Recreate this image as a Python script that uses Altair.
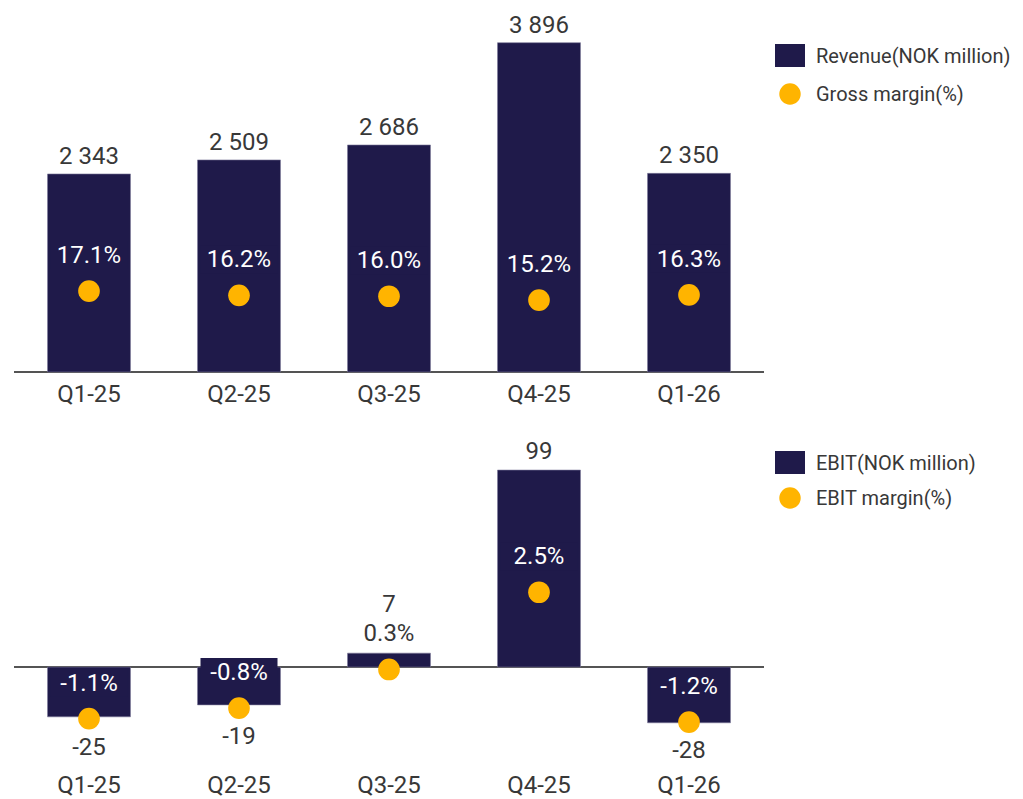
import altair as alt
import pandas as pd

quarters = ["Q1-25", "Q2-25", "Q3-25", "Q4-25", "Q1-26"]
revenue = [2343, 2509, 2686, 3896, 2350]
gross_margin = [17.1, 16.2, 16.0, 15.2, 16.3]
ebit = [-25, -19, 7, 99, -28]
ebit_margin = [-1.1, -0.8, 0.3, 2.5, -1.2]
legend_top = ["Revenue(NOK million)", "Gross margin(%)"]
legend_bottom = ["EBIT(NOK million)", "EBIT margin(%)"]

FONT = "Roboto"
TXT = "#383838"
NAVY = "#1f1a4a"
AMBER = "#ffb400"
FS = 24

def fmt_num(v):
    return f"{v:,}".replace(",", " ")

def fmt_pct(v):
    return f"{v:.1f}%"

top_df = pd.DataFrame({
    "q": quarters, "v": revenue, "m": gross_margin,
    "vl": [fmt_num(v) for v in revenue],
    "ml": [fmt_pct(v) for v in gross_margin],
})
bot_df = pd.DataFrame({
    "q": quarters, "v": ebit, "m": ebit_margin,
    "vl": [fmt_num(v) for v in ebit],
    "ml": [fmt_pct(v) for v in ebit_margin],
})

W = 750
H_TOP = 355
H_BOT = 322

def xenc():
    return alt.X(
        "q:N", sort=quarters,
        scale=alt.Scale(paddingInner=0.447, paddingOuter=0.2235),
        axis=alt.Axis(title=None, domain=False, ticks=False, labelFont=FONT,
                      labelFontSize=FS, labelColor=TXT, labelPadding=10,
                      labelAngle=0),
    )

BOX = "M-1,-0.3636H1V0.3636H-1Z"

def panel(df, vdom, mdom, height, legend_labels, leg_y):
    vscale = alt.Scale(domain=vdom, nice=False, zero=False)
    mscale = alt.Scale(domain=mdom, nice=False, zero=False)
    base = alt.Chart(df)
    inside = "!(datum.v > 0 && datum.v < 20)"
    rule = base.mark_rule(color="#555555", strokeWidth=1.6).encode(
        y=alt.YDatum(0, scale=vscale, axis=None))
    bars = base.mark_bar(color=NAVY, stroke="#7c7899", strokeWidth=0.6).encode(
        x=xenc(), y=alt.Y("v:Q", scale=vscale, axis=None))
    boxes = base.transform_filter(inside).mark_point(
        shape=BOX, size=5929, filled=True, color=NAVY, opacity=1, yOffset=-36).encode(
        x=xenc(), y=alt.Y("m:Q", scale=mscale, axis=None))
    dots = base.mark_circle(size=470, color=AMBER, opacity=1).encode(
        x=xenc(), y=alt.Y("m:Q", scale=mscale, axis=None))
    mtext = base.mark_text(font=FONT, fontSize=FS, baseline="alphabetic", dy=-28).encode(
        x=xenc(), y=alt.Y("m:Q", scale=mscale, axis=None), text="ml:N",
        color=alt.condition(inside, alt.value("white"), alt.value(TXT)))
    layers = [rule, bars, boxes, dots, mtext]
    if vdom[0] >= 0:
        vtext = base.mark_text(font=FONT, fontSize=FS, baseline="alphabetic", dy=-10, color=TXT).encode(
            x=xenc(), y=alt.Y("v:Q", scale=vscale, axis=None), text="vl:N")
        layers.append(vtext)
    else:
        big = base.transform_filter("datum.v >= 50").mark_text(
            font=FONT, fontSize=FS, baseline="alphabetic", dy=-11, color=TXT).encode(
            x=xenc(), y=alt.Y("v:Q", scale=vscale, axis=None), text="vl:N")
        small = base.transform_filter("datum.v > 0 && datum.v < 50").mark_text(
            font=FONT, fontSize=FS, baseline="alphabetic", dy=-57, color=TXT).encode(
            x=xenc(), y=alt.Y("m:Q", scale=mscale, axis=None), text="vl:N")
        neg = base.transform_filter("datum.v < 0").mark_text(
            font=FONT, fontSize=FS, baseline="alphabetic", dy=36, color=TXT).encode(
            x=xenc(), y=alt.Y("m:Q", scale=mscale, axis=None), text="vl:N")
        layers += [big, small, neg]
    # legend
    l0 = alt.Chart(pd.DataFrame({"t": [legend_labels[0]]}))
    l1 = alt.Chart(pd.DataFrame({"t": [legend_labels[1]]}))
    y0, y1 = leg_y
    layers += [
        l0.mark_rect(color=NAVY).encode(x=alt.value(761), x2=alt.value(791),
                                        y=alt.value(y0 - 11.5), y2=alt.value(y0 + 11.5)),
        l1.mark_circle(size=460, color=AMBER, opacity=1).encode(x=alt.value(776), y=alt.value(y1)),
        l0.mark_text(font=FONT, fontSize=20, align="left", baseline="middle", color=TXT).encode(
            x=alt.value(802), y=alt.value(y0 + 1), text="t:N"),
        l1.mark_text(font=FONT, fontSize=20, align="left", baseline="middle", color=TXT).encode(
            x=alt.value(802), y=alt.value(y1 + 1), text="t:N"),
    ]
    return alt.layer(*layers).resolve_scale(y="independent").properties(width=W, height=height)

top = panel(top_df, [0, 4200], [0, 75], H_TOP, legend_top, (38.5, 77))
bottom = panel(bot_df, [-48.2, 113.6], [-2.365, 6.809], H_BOT, legend_bottom, (21.5, 57))

chart = alt.vconcat(top, bottom, spacing=34).properties(
    padding={"left": 5, "top": 5, "right": 0, "bottom": 0}
).configure_view(stroke=None)

chart.save("out.html", embed_options={"renderer": "svg", "actions": False})
